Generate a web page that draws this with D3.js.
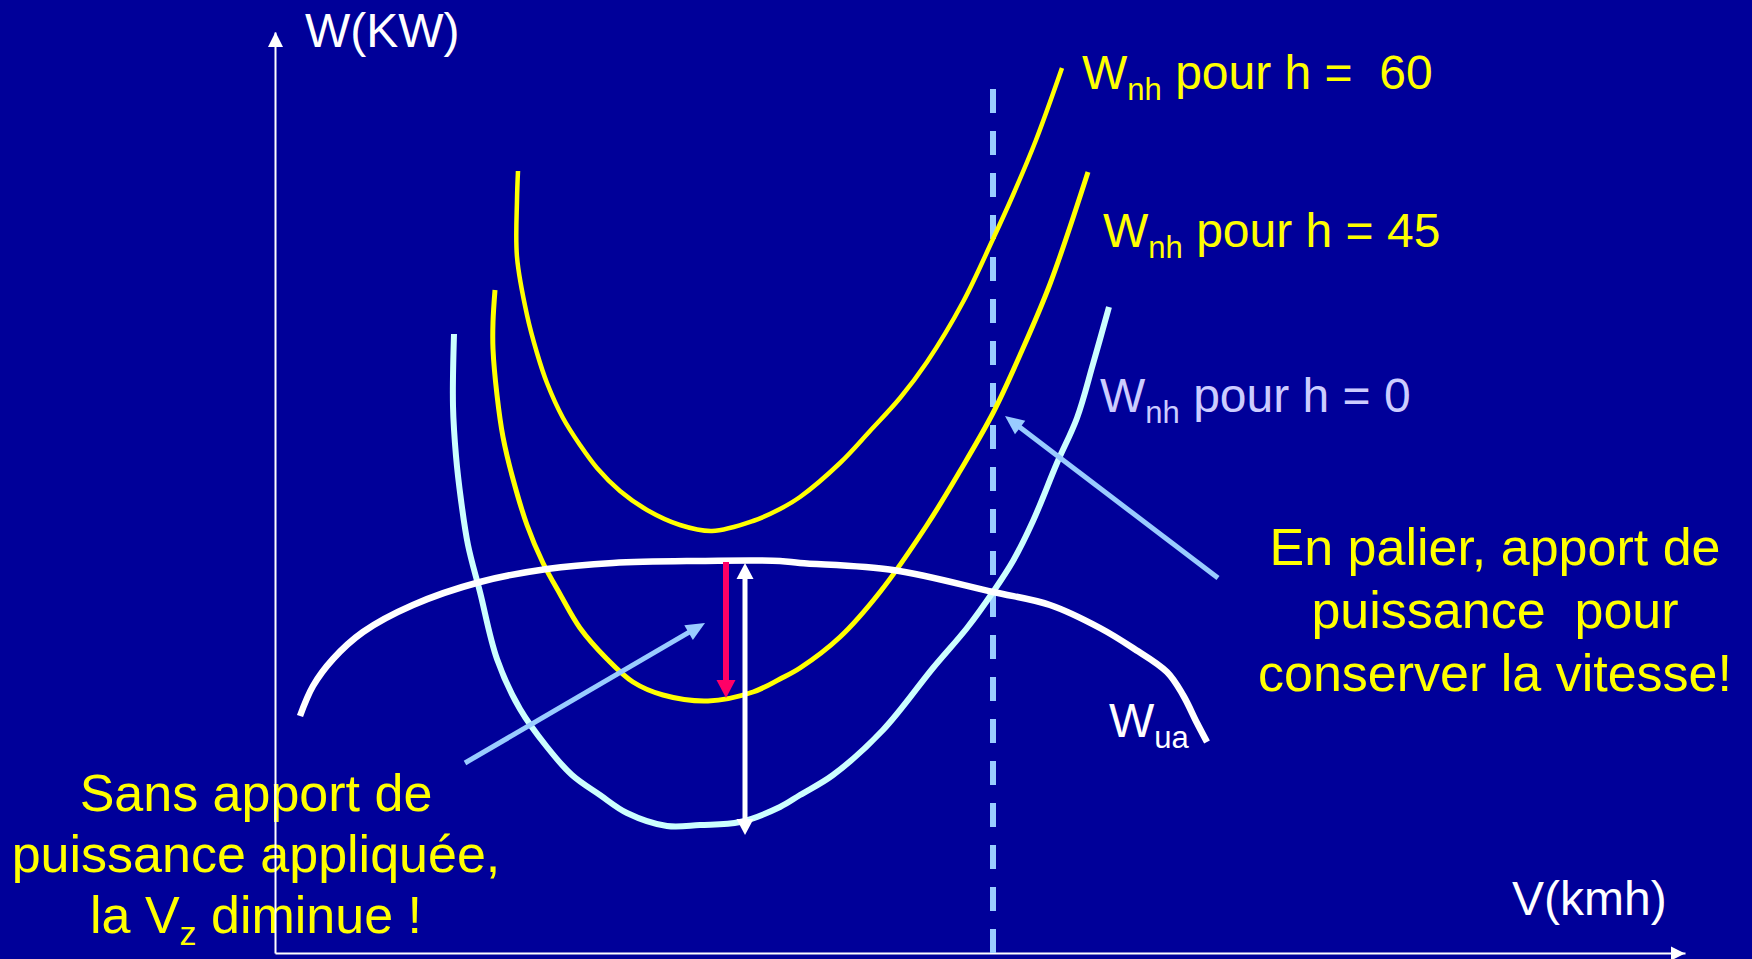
<!DOCTYPE html>
<html>
<head>
<meta charset="utf-8">
<script src="https://cdn.jsdelivr.net/npm/d3@7"></script>
<style>
  html, body { margin: 0; padding: 0; background: #000099; }
  svg { display: block; }
  text { font-family: "Liberation Sans", Arial, sans-serif; white-space: pre; }
</style>
</head>
<body>
<div class="chart"></div>
<script>
// ======= PUISSANCE UTILE / NECESSAIRE vs VITESSE ===========

// curves as [V, W] pairs (arbitrary units, no ticks on the original)
const wnh60 = [[24.3,78.2],[24.2,75.3],[24.2,69.6],[25.2,63.8],[26.2,60.0],[27.2,57.0],[28.8,53.5],[30.5,50.8],
  [32.2,48.5],[34.5,46.2],[37.2,44.3],[40.5,42.8],[43.7,42.2],[47.8,43.2],[50.5,44.4],[52.5,45.6],[56.5,49.0],
  [59.5,52.2],[62.5,55.5],[65.2,59.1],[68.8,65.1],[71.8,71.4],[73.8,75.8],[76.1,81.3],[78.7,88.5]]

const wnh45 = [[22.0,66.3],[21.8,63.1],[21.8,60.4],[22.2,55.8],[22.8,51.6],[23.8,47.4],[25.2,42.8],[26.8,39.0],
  [28.5,35.9],[30.5,32.5],[33.2,29.4],[35.8,27.1],[38.8,25.8],[43.3,25.2],[47.8,26.1],[50.5,27.4],[52.5,28.5],
  [56.5,31.6],[60.5,36.1],[65.2,42.8],[68.5,48.2],[71.8,54.0],[74.5,59.8],[77.5,66.9],[81.3,78.1]]

const wnh0 = [[17.9,61.9],[17.8,54.7],[18.1,49.7],[18.6,45.3],[19.3,40.8],[20.5,36.1],[22.2,29.4],[24.5,24.4],
  [27.2,20.6],[29.7,17.8],[32.5,15.8],[35.2,14.0],[39.2,12.7],[42.5,12.8],[46.5,13.1],[50.5,14.6],[52.5,15.8],
  [55.8,17.8],[60.8,22.3],[65.8,28.5],[69.2,32.5],[71.8,36.1],[73.8,39.2],[75.8,43.2],[78.2,49.0],[80.2,53.5],
  [81.8,58.9],[83.4,64.6]]

const wua = [[2.5,23.7],[3.8,26.7],[5.8,29.4],[8.8,32.1],[13.8,34.8],[20.5,37.1],[27.2,38.4],[33.8,39.0],
  [42.2,39.2],[50.5,39.2],[52.5,39.0],[61.8,38.3],[71.8,36.1],[77.5,34.8],[82.5,32.5],[85.8,30.5],[89.2,28.1],
  [90.8,25.8],[92.2,23.0],[93.2,21.1]]

// vertical marker and annotation arrows [from, to]
const vPalier = 71.8
const redArrow = [[45.1,39.1],[45.1,25.5]]
const whiteArrow = [[47.0,39.0],[47.0,11.8]]
const arrowSans = [[19.0,19.0],[43.0,33.0]]
const arrowPalier = [[94.3,37.5],[73.0,53.7]]

const labelsRight = ['En palier, apport de', 'puissance  pour', 'conserver la vitesse!']
const labelsLeft = ['Sans apport de', 'puissance appliquée,']

const W = 1752, H = 959

const svg = d3.select('.chart')
  .append('svg')
    .attr('width', W)
    .attr('height', H)

svg.append('rect')
  .attr('width', W)
  .attr('height', H)
  .attr('fill', '#000099')

const xScale = d3.scaleLinear()
  .domain([0, 141])
  .range([275, 1685])

const yScale = d3.scaleLinear()
  .domain([0, 92.1])
  .range([953, 32]) // y runs top to bottom

const line = d3.line()
  .x(d => xScale(d[0]))
  .y(d => yScale(d[1]))
  .curve(d3.curveCatmullRom.alpha(0.5))

// triangle head, tip at (x2,y2)
function arrowHead (g, x1, y1, x2, y2, len, wid, color) {
  const a = Math.atan2(y2 - y1, x2 - x1)
  const bx = x2 - len * Math.cos(a), by = y2 - len * Math.sin(a)
  const px = Math.sin(a) * wid / 2, py = -Math.cos(a) * wid / 2
  g.append('path')
    .attr('d', `M${x2},${y2}L${bx + px},${by + py}L${bx - px},${by - py}Z`)
    .attr('fill', color)
}

function arrow (g, pts, color, width, len, wid, both) {
  const [x1, y1] = [xScale(pts[0][0]), yScale(pts[0][1])]
  const [x2, y2] = [xScale(pts[1][0]), yScale(pts[1][1])]
  const a = Math.atan2(y2 - y1, x2 - x1)
  const s = both ? len * 0.7 : 0
  g.append('line')
    .attr('x1', x1 + s * Math.cos(a)).attr('y1', y1 + s * Math.sin(a))
    .attr('x2', x2 - len * 0.7 * Math.cos(a)).attr('y2', y2 - len * 0.7 * Math.sin(a))
    .attr('stroke', color)
    .attr('stroke-width', width)
  arrowHead(g, x1, y1, x2, y2, len, wid, color)
  if (both) arrowHead(g, x2, y2, x1, y1, len, wid, color)
}

// ---- left annotation text (under the axis)
const left = svg.append('text')
  .attr('fill', '#ffff00')
  .attr('font-size', 52)
  .attr('text-anchor', 'middle')
labelsLeft.forEach((t, i) => {
  left.append('tspan').attr('x', 256).attr('y', 811 + i * 61).text(t)
})
const l3 = left.append('tspan').attr('x', 256).attr('y', 933)
l3.append('tspan').text('la V')
l3.append('tspan').attr('font-size', 34).attr('dy', 12).text('z')
l3.append('tspan').attr('dy', -12).text(' diminue !')

// ---- axes
const yAxis = d3.axisLeft(yScale).tickValues([]).tickSizeOuter(0)
const xAxis = d3.axisBottom(xScale).tickValues([]).tickSizeOuter(0)

svg.append('g')
  .attr('transform', `translate(${xScale(0)}, 0)`)
  .call(yAxis)
  .select('.domain').attr('stroke', '#fff').attr('stroke-width', 2)

svg.append('g')
  .attr('transform', `translate(0, ${yScale(0)})`)
  .call(xAxis)
  .select('.domain').attr('stroke', '#fff').attr('stroke-width', 2)

arrowHead(svg, xScale(0), yScale(10), xScale(0) + 0.5, yScale(92.1), 15, 15, '#fff')
arrowHead(svg, xScale(130), yScale(0) + 0.5, xScale(141), yScale(0) + 0.5, 14, 14, '#fff')

// ---- dashed speed line
svg.append('line')
  .attr('x1', xScale(vPalier)).attr('x2', xScale(vPalier))
  .attr('y1', yScale(86.4)).attr('y2', yScale(0))
  .attr('stroke', '#99ccff')
  .attr('stroke-width', 6)
  .attr('stroke-dasharray', '24 18')

// ---- curves
const curves = [
  { data: wnh60, color: '#ffff00', width: 4.5 },
  { data: wnh45, color: '#ffff00', width: 5 },
  { data: wnh0, color: '#ccffff', width: 6 },
  { data: wua, color: '#ffffff', width: 6.5 }
]

svg.selectAll('path.curve')
  .data(curves)
  .enter().append('path')
    .attr('class', 'curve')
    .attr('d', d => line(d.data))
    .attr('fill', 'none')
    .attr('stroke', d => d.color)
    .attr('stroke-width', d => d.width)
    .attr('stroke-linejoin', 'round')

// ---- arrows
arrow(svg, arrowSans, '#99ccff', 5, 19, 17, false)
arrow(svg, arrowPalier, '#99ccff', 5, 19, 17, false)
arrow(svg, redArrow, '#ff0066', 6, 18, 19, false)
arrow(svg, whiteArrow, '#ffffff', 5, 16, 17, true)

// ---- axis titles
svg.append('text').attr('x', 305).attr('y', 47)
  .attr('fill', '#fff').attr('font-size', 48).text('W(KW)')
svg.append('text').attr('x', 1512).attr('y', 915)
  .attr('fill', '#fff').attr('font-size', 48).text('V(kmh)')

// ---- curve labels with subscripts
function subLabel (x, y, main, sub, rest, color) {
  const t = svg.append('text').attr('x', x).attr('y', y)
    .attr('fill', color).attr('font-size', 48)
  t.append('tspan').text(main)
  t.append('tspan').attr('font-size', 31).attr('dy', 11).text(sub)
  if (rest) t.append('tspan').attr('dy', -11).text(rest)
}

subLabel(1082, 89, 'W', 'nh', ' pour h =  60', '#ffff00')
subLabel(1103, 247, 'W', 'nh', ' pour h = 45', '#ffff00')
subLabel(1100, 412, 'W', 'nh', ' pour h = 0', '#ccccff')
subLabel(1109, 737, 'W', 'ua', null, '#ffffff')

// ---- right annotation text
const right = svg.append('text')
  .attr('fill', '#ffff00')
  .attr('font-size', 52)
  .attr('text-anchor', 'middle')
labelsRight.forEach((t, i) => {
  right.append('tspan').attr('x', 1495).attr('y', 565 + i * 63).text(t)
})
</script>
</body>
</html>
